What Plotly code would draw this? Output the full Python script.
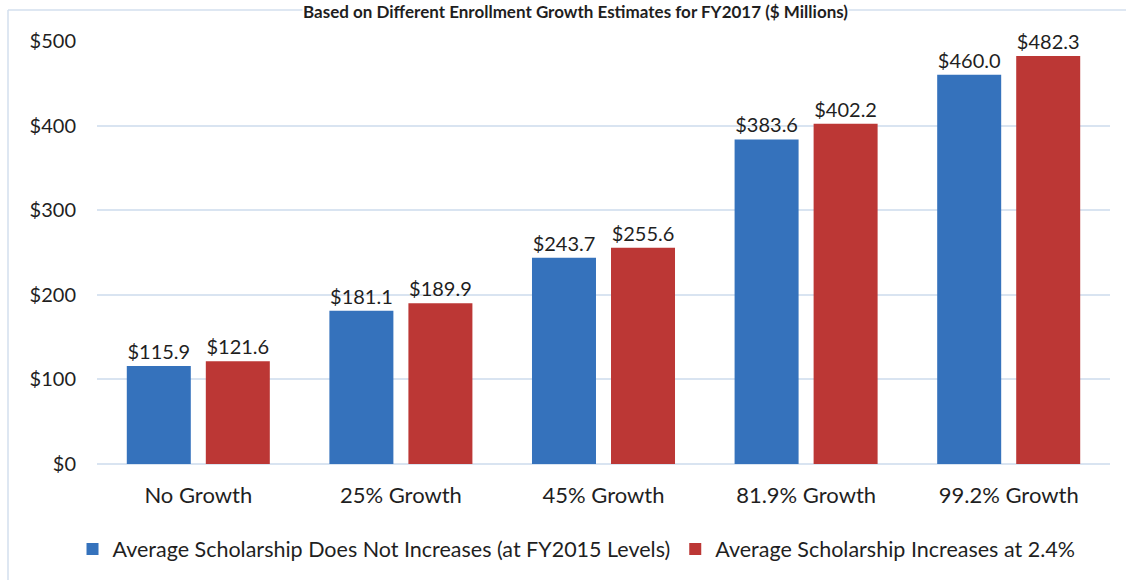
import plotly.graph_objects as go

categories = ["No Growth", "25% Growth", "45% Growth", "81.9% Growth", "99.2% Growth"]
series_names = ["Average Scholarship Does Not Increases (at FY2015 Levels)",
                "Average Scholarship Increases at 2.4%"]
flat_values = [115.9, 181.1, 243.7, 383.6, 460.0]
increase_values = [121.6, 189.9, 255.6, 402.2, 482.3]
tick_values = [0, 100, 200, 300, 400, 500]
tick_labels = ["$0", "$100", "$200", "$300", "$400", "$500"]
title_text = "Based on Different Enrollment Growth Estimates for FY2017 ($ Millions)"

FONT = "Lato, Carlito, Calibri, sans-serif"
TXT = "#1f1f1f"

L, R, T, B = 97, 16, 41, 116
PW, PH = 1126 - L - R, 580 - T - B


def px_x(p):
    return (p - L) / PW


def px_y(p):
    return (580 - B - p) / PH


fig = go.Figure()
for name, vals, col in [(series_names[0], flat_values, "#3572BC"),
                        (series_names[1], increase_values, "#BC3735")]:
    fig.add_trace(go.Bar(
        x=categories, y=vals, name=name,
        marker=dict(color=col, line=dict(width=0)),
        text=[f"${v:.1f}" for v in vals], textposition="outside",
        textfont=dict(family=FONT, size=20, color=TXT),
        cliponaxis=False,
    ))

fig.update_layout(
    width=1126, height=580,
    margin=dict(l=L, r=R, t=T, b=B, autoexpand=False),
    paper_bgcolor="white", plot_bgcolor="white",
    barmode="group", bargap=0.22, bargroupgap=0.19,
    font=dict(family=FONT, size=20, color=TXT),
    showlegend=True,
    legend=dict(orientation="h", x=0.512, xref="container", xanchor="center",
                y=1 - 549 / 580, yref="container", yanchor="middle",
                font=dict(family=FONT, size=21.5, color=TXT), itemwidth=30,
                traceorder="normal"),
    xaxis=dict(showgrid=False, showline=False, ticks="", tickfont=dict(size=22),
               range=[-0.5, 4.5], automargin=False, ticklabelstandoff=16),
    yaxis=dict(range=[0, 500], tickvals=tick_values, ticktext=tick_labels,
               showgrid=True, gridcolor="#D9E4F1", gridwidth=1.5, zeroline=True,
               zerolinecolor="#D9E4F1", zerolinewidth=1.5, ticks="", ticklabelstandoff=20,
               tickfont=dict(size=20), automargin=False),
)

# chart border (left and top)
fig.add_shape(type="line", xref="paper", yref="paper",
              x0=px_x(8), x1=px_x(1140), y0=px_y(10), y1=px_y(10),
              line=dict(color="#D3DFEE", width=1.5))
fig.add_shape(type="line", xref="paper", yref="paper",
              x0=px_x(8), x1=px_x(8), y0=px_y(10), y1=px_y(600),
              line=dict(color="#D3DFEE", width=1.5))

# title at the very top
fig.add_annotation(text="<b>" + title_text + "</b>", xref="paper", yref="paper",
                   x=px_x(575), y=px_y(0), xanchor="center", yanchor="top",
                   showarrow=False, bgcolor="white", borderpad=0,
                   font=dict(family=FONT, size=17, color=TXT))

fig.write_html("out.html", config={"displayModeBar": False},
               post_script="document.body.style.margin='0px';")
